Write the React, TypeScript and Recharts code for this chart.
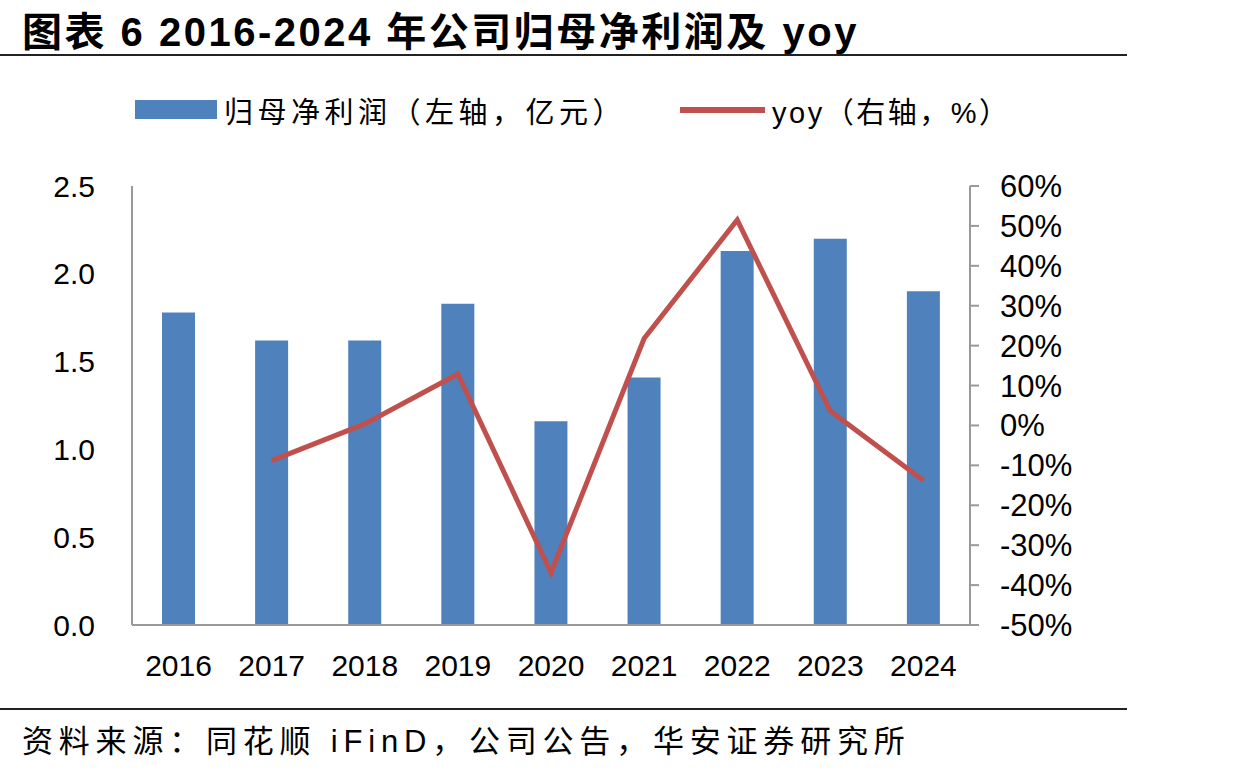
import { Bar, ComposedChart, Line, XAxis, YAxis } from 'recharts';

const years = ['2016', '2017', '2018', '2019', '2020', '2021', '2022', '2023', '2024'];
const netProfit = [1.78, 1.62, 1.62, 1.83, 1.16, 1.41, 2.13, 2.2, 1.9];
const yoy = [null, -8.8, 0.4, 12.9, -36.9, 21.8, 51.5, 3.6, -13.8];
const leftTicks = [0, 0.5, 1, 1.5, 2, 2.5];
const rightTicks = [-50, -40, -30, -20, -10, 0, 10, 20, 30, 40, 50, 60];

const data = years.map((year, i) => ({ year, profit: netProfit[i], yoy: yoy[i] }));

const latin = 'Arial, "Liberation Sans", "Noto Sans CJK SC", sans-serif';
const cjk = '"Liberation Sans", "Noto Sans CJK SC", sans-serif';

export default function App() {
  return (
    <div
      style={{
        position: 'absolute',
        left: 0,
        top: 0,
        width: 1237,
        height: 770,
        background: '#fff',
        fontFamily: cjk,
        color: '#000',
      }}
    >
      <div
        style={{
          position: 'absolute',
          left: 22,
          top: 0,
          fontSize: 40,
          fontWeight: 'bold',
          letterSpacing: 2.5,
          whiteSpace: 'nowrap',
        }}
      >
        图表 6 2016-2024 年公司归母净利润及 yoy
      </div>
      <div style={{ position: 'absolute', left: 0, top: 54, width: 1127, height: 2, background: '#222' }} />

      {/* legend */}
      <div style={{ position: 'absolute', left: 135, top: 100, width: 82, height: 19, background: '#4F81BD' }} />
      <div style={{ position: 'absolute', left: 224, top: 89, fontSize: 29, letterSpacing: 4.5, whiteSpace: 'nowrap' }}>
        归母净利润（左轴，亿元）
      </div>
      <div style={{ position: 'absolute', left: 680, top: 107, width: 85, height: 6, background: '#C0504D' }} />
      <div style={{ position: 'absolute', left: 772, top: 89, fontSize: 29, letterSpacing: 2.5, whiteSpace: 'nowrap' }}>
        yoy（右轴，%）
      </div>

      <div style={{ position: 'absolute', left: 0, top: 0 }}>
        <ComposedChart
          width={1237}
          height={770}
          data={data}
          margin={{ top: 186, right: 0, bottom: 85, left: 0 }}
        >
          <XAxis
            dataKey="year"
            height={60}
            axisLine={{ stroke: '#999', strokeWidth: 2 }}
            tickLine={false}
            tickSize={0}
            tickMargin={30}
            tick={{ fontSize: 30, fill: '#000', fontFamily: latin }}
            interval={0}
          />
          <YAxis
            yAxisId="left"
            width={132}
            domain={[0, 2.5]}
            ticks={leftTicks}
            tickFormatter={(v: number) => v.toFixed(1)}
            axisLine={{ stroke: '#999', strokeWidth: 2 }}
            tickLine={false}
            tickSize={0}
            tickMargin={37}
            tick={{ fontSize: 30, fill: '#000', fontFamily: latin }}
            interval={0}
          />
          <YAxis
            yAxisId="right"
            orientation="right"
            width={267}
            domain={[-50, 60]}
            ticks={rightTicks}
            tickFormatter={(v: number) => `${v}%`}
            axisLine={{ stroke: '#999', strokeWidth: 2 }}
            tickLine={{ stroke: '#999', strokeWidth: 2 }}
            tickSize={9}
            tickMargin={21}
            tick={{ fontSize: 31, fill: '#000', fontFamily: latin, textAnchor: 'start' }}
            interval={0}
          />
          <Bar yAxisId="left" dataKey="profit" fill="#4F81BD" barSize={33} isAnimationActive={false} />
          <Line
            yAxisId="right"
            dataKey="yoy"
            stroke="#C0504D"
            strokeWidth={5}
            dot={false}
            type="linear"
            connectNulls={false}
            isAnimationActive={false}
          />
        </ComposedChart>
      </div>

      <div style={{ position: 'absolute', left: 0, top: 708, width: 1127, height: 2, background: '#222' }} />
      <div style={{ position: 'absolute', left: 22, top: 716, fontSize: 31, letterSpacing: 5.8, whiteSpace: 'nowrap' }}>
        资料来源：同花顺 iFinD，公司公告，华安证券研究所
      </div>
    </div>
  );
}
